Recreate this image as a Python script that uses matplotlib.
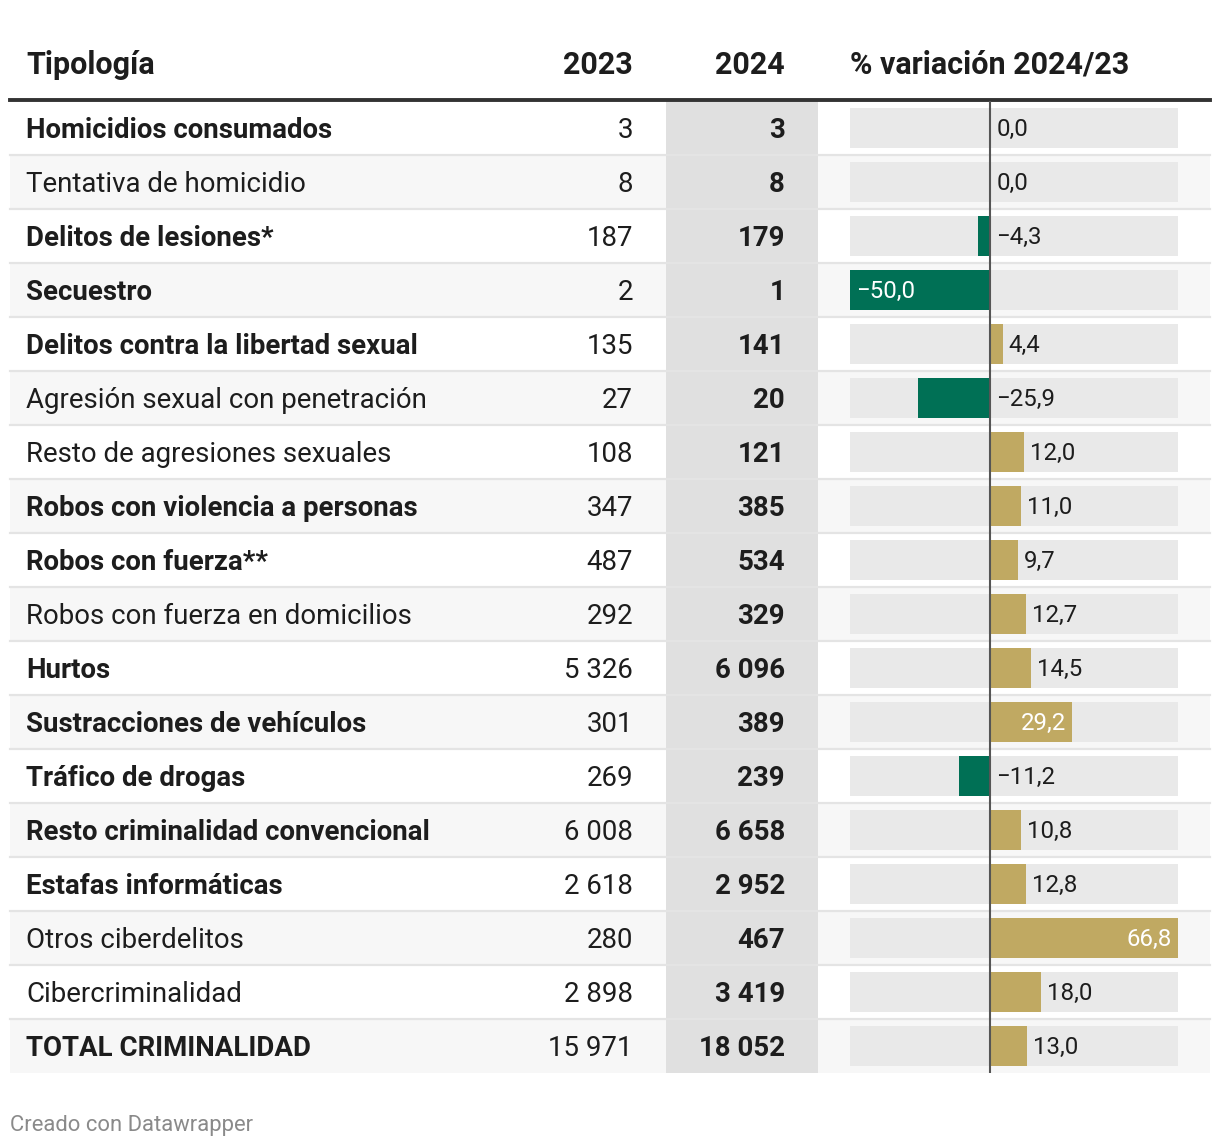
"""
Datawrapper-style table: criminalidad 2023 vs 2024 with variation bars.
"""
import matplotlib.pyplot as plt
from matplotlib.patches import Rectangle

plt.rcParams['font.family'] = ['Roboto', 'DejaVu Sans']

categories = ['Homicidios consumados', 'Tentativa de homicidio', 'Delitos de lesiones*',
              'Secuestro', 'Delitos contra la libertad sexual',
              'Agresión sexual con penetración', 'Resto de agresiones sexuales',
              'Robos con violencia a personas', 'Robos con fuerza**',
              'Robos con fuerza en domicilios', 'Hurtos', 'Sustracciones de vehículos',
              'Tráfico de drogas', 'Resto criminalidad convencional',
              'Estafas informáticas', 'Otros ciberdelitos', 'Cibercriminalidad',
              'TOTAL CRIMINALIDAD']
bold_rows = [True, False, True, True, True, False, False, True, True, False,
             True, True, True, True, True, False, False, True]
v2023 = [3, 8, 187, 2, 135, 27, 108, 347, 487, 292, 5326, 301, 269, 6008,
         2618, 280, 2898, 15971]
v2024 = [3, 8, 179, 1, 141, 20, 121, 385, 534, 329, 6096, 389, 239, 6658,
         2952, 467, 3419, 18052]
variation = [0.0, 0.0, -4.3, -50.0, 4.4, -25.9, 12.0, 11.0, 9.7, 12.7, 14.5,
             29.2, -11.2, 10.8, 12.8, 66.8, 18.0, 13.0]
headers = ['Tipología', '2023', '2024', '% variación 2024/23']

W, H = 1220, 1148
top, row_h = 101, 54
n = len(categories)
txt = '#1d1d1d'
neg_col, pos_col = '#007055', '#c0a962'
fs_head, fs_body, fs_bar = 22, 19.9, 17.3


def fmt_int(v):
    return f'{v:,}'.replace(',', ' ')


def fmt_pct(v):
    return f'{v:.1f}'.replace('.', ',').replace('-', '\u2212')


fig = plt.figure(figsize=(W / 100, H / 100), dpi=100)
ax = fig.add_axes([0, 0, 1, 1])
ax.set_xlim(0, W)
ax.set_ylim(H, 0)
ax.axis('off')

# row backgrounds and separators
for i in range(n):
    y0 = top + i * row_h
    if i % 2 == 1:
        ax.add_patch(Rectangle((10, y0), 1200, row_h, color='#f7f7f7', lw=0, zorder=0))
ax.add_patch(Rectangle((666, top), 152, n * row_h, color='#e0e0e0', lw=0, zorder=1))
for i in range(n - 1):
    y = top + (i + 1) * row_h
    ax.plot([10, 1210], [y, y], color='#e4e4e4', lw=1.6, zorder=2)
ax.plot([10, 1210], [100, 100], color='#333333', lw=2.8, zorder=3)

# headers
hy = 74
ax.text(26, hy, headers[0], fontsize=fs_head, fontweight='bold', color=txt, va='baseline')
ax.text(633, hy, headers[1], fontsize=fs_head, fontweight='bold', color=txt, va='baseline', ha='right')
ax.text(785, hy, headers[2], fontsize=fs_head, fontweight='bold', color=txt, va='baseline', ha='right')
ax.text(850, hy, headers[3], fontsize=fs_head, fontweight='bold', color=txt, va='baseline')

# table text
for i in range(n):
    yb = top + i * row_h + row_h / 2 + 10
    ax.text(26, yb, categories[i], fontsize=fs_body, color=txt, va='baseline',
            fontweight='bold' if bold_rows[i] else 'normal', zorder=4)
    ax.text(633, yb, fmt_int(v2023[i]), fontsize=fs_body, color=txt, va='baseline',
            ha='right', zorder=4)
    ax.text(785, yb, fmt_int(v2024[i]), fontsize=fs_body, color=txt, va='baseline',
            ha='right', fontweight='bold', zorder=4)

ax.text(10, 1131, 'Creado con Datawrapper', fontsize=15.8, color='#8a8a8a', va='baseline')

# variation bars
bx = fig.add_axes([850 / W, (H - top - n * row_h) / H, 328 / W, n * row_h / H])
bx.patch.set_alpha(0)
lo, hi = min(variation), max(variation)
rows = list(range(n))
bx.barh(rows, hi - lo, left=lo, height=40 / 54, color='#e9e9e9', lw=0)
bx.barh(rows, variation, height=40 / 54, lw=0,
        color=[neg_col if v < 0 else pos_col for v in variation])
bx.axvline(0, color='#555555', lw=1.5)
bx.set_xlim(lo, hi)
bx.set_ylim(n - 0.5, -0.5)
bx.axis('off')

for i, v in enumerate(variation):
    lab = fmt_pct(v)
    if abs(v) > 28 and v > 0:
        bx.annotate(lab, (v, i), xytext=(-6, -8), textcoords='offset pixels',
                    ha='right', va='baseline', fontsize=fs_bar, color='white')
    elif abs(v) > 28:
        bx.annotate(lab, (v, i), xytext=(6, -8), textcoords='offset pixels',
                    ha='left', va='baseline', fontsize=fs_bar, color='white')
    else:
        bx.annotate(lab, (max(v, 0), i), xytext=(6, -8), textcoords='offset pixels',
                    ha='left', va='baseline', fontsize=fs_bar, color=txt)

fig.savefig('out.png', dpi=100, facecolor='white')
